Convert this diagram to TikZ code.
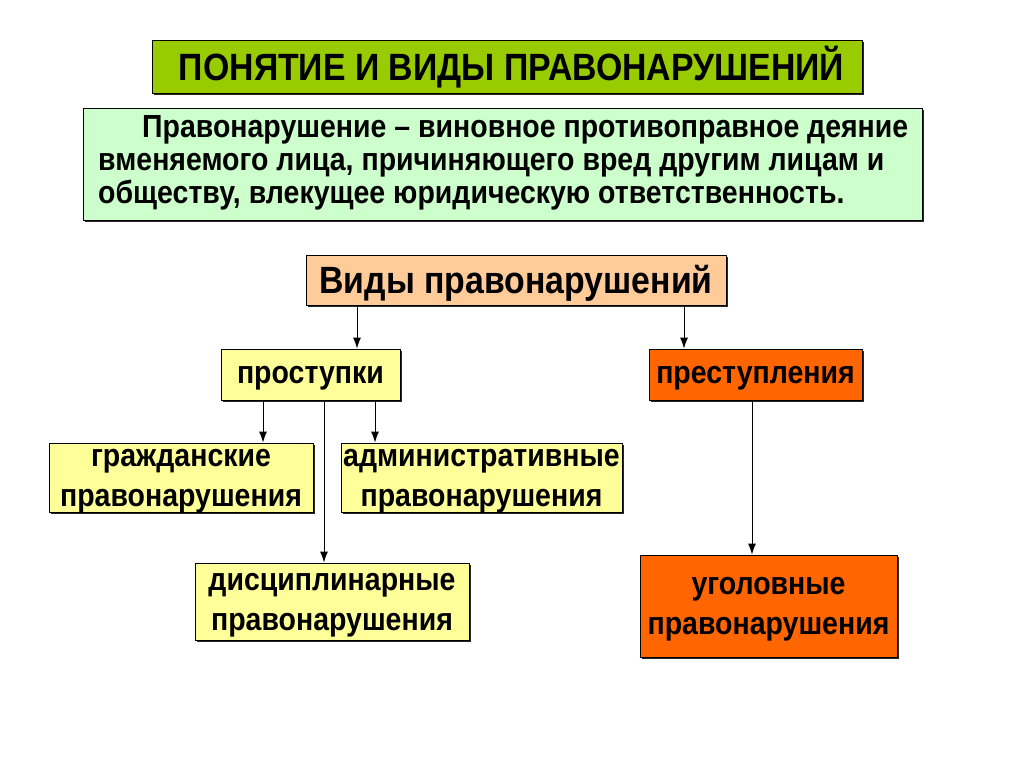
\documentclass[tikz,border=0pt]{standalone}
\usepackage{fontspec}
\setmainfont{Liberation Sans}[BoldFeatures={FakeStretch=0.89}]
\usetikzlibrary{shadows,arrows.meta}
\definecolor{titlegreen}{HTML}{99CC00}
\definecolor{defgreen}{HTML}{CCFFCC}
\definecolor{peach}{HTML}{FFCC99}
\definecolor{lightyellow}{HTML}{FFFF99}
\definecolor{orangebox}{HTML}{FF6600}
\tikzset{
  boxbase/.style={draw=black, line width=0.8pt, inner sep=0pt, font=\bfseries,
    drop shadow={shadow xshift=2pt, shadow yshift=-2pt, fill=black!85, opacity=1}},
  kidfont/.style={font=\bfseries\fontsize{32}{40}\selectfont, text depth=0pt},
  conn/.style={-{Latex[length=11pt,width=8pt]}, line width=1pt},
}
\begin{document}
\begin{tikzpicture}[x=1pt,y=-1pt]
\useasboundingbox (0,0) rectangle (1024,767);
\fill[white] (0,0) rectangle (1024,767);
% title
\node[boxbase, fill=titlegreen, minimum width=710pt, minimum height=53pt] (title) at (507,66.5) {};
\node[inner sep=0pt, font=\bfseries\fontsize{38}{42}\selectfont] (titletext) at (511.5,67) {ПОНЯТИЕ И ВИДЫ ПРАВОНАРУШЕНИЙ};
% definition
\node[boxbase, fill=defgreen, minimum width=839pt, minimum height=112pt] (def) at (502.5,164) {};
\node[anchor=north west, inner sep=0pt, align=left,
  font=\bfseries\fontsize{32}{33}\selectfont] (deftext) at (98,115)
  {\hspace*{44pt}Правонарушение – виновное противоправное деяние\\
   вменяемого лица, причиняющего вред другим лицам и\\
   обществу, влекущее юридическую ответственность.};
% kinds
\node[boxbase, fill=peach, minimum width=420pt, minimum height=50pt,
  font=\bfseries\fontsize{38}{42}\selectfont, text depth=2pt] (vidy) at (516,280) {Виды правонарушений};
\node[boxbase, fill=lightyellow, minimum width=179pt, minimum height=51pt, kidfont] (prost) at (310.5,374.5) {проступки};
\node[boxbase, fill=orangebox, minimum width=213pt, minimum height=51pt, kidfont] (prest) at (755.5,374.5) {преступления};
\node[boxbase, fill=lightyellow, minimum width=264pt, minimum height=69pt, align=center, kidfont] (grazh) at (181,477.5) {гражданские\\правонарушения};
\node[boxbase, fill=lightyellow, minimum width=281pt, minimum height=69pt, align=center, kidfont] (admin) at (481.5,477.5) {административные\\правонарушения};
\node[boxbase, fill=lightyellow, minimum width=274pt, minimum height=77pt, align=center, kidfont] (disc) at (332,601.5) {дисциплинарные\\правонарушения};
\node[boxbase, fill=orangebox, minimum width=257pt, minimum height=102pt, align=center, kidfont] (ugol) at (768.5,606) {уголовные\\правонарушения};
% connectors
\draw[conn] ([xshift=-159pt]vidy.south) -- ([xshift=46.5pt]prost.north);
\draw[conn] ([xshift=168pt]vidy.south) -- ([xshift=-71.5pt]prest.north);
\draw[conn] ([xshift=-47.5pt]prost.south) -- ([xshift=82pt]grazh.north);
\draw[conn] ([xshift=13.5pt]prost.south) -- ([xshift=-8pt]disc.north);
\draw[conn] ([xshift=64.5pt]prost.south) -- ([xshift=-106.5pt]admin.north);
\draw[conn] ([xshift=-3.5pt]prest.south) -- ([xshift=-16.5pt]ugol.north);
\end{tikzpicture}
\end{document}
